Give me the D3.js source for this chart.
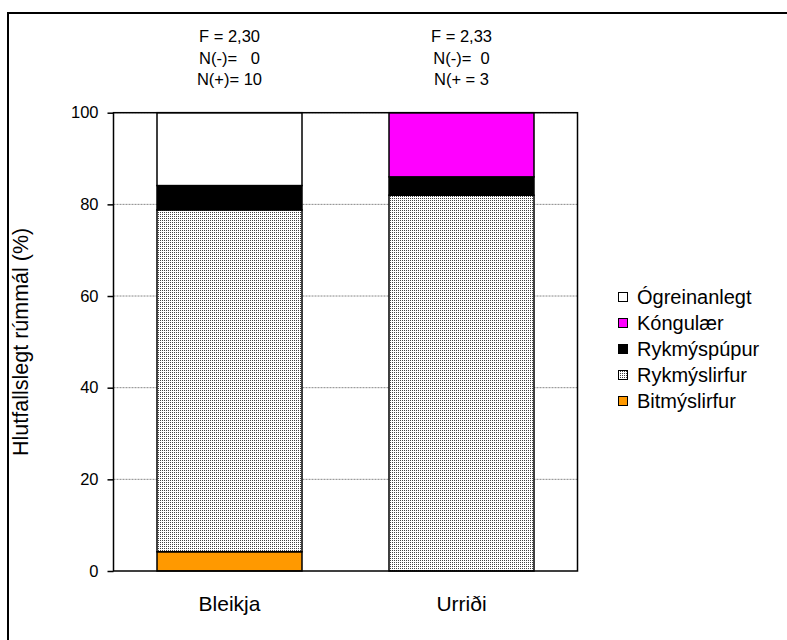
<!DOCTYPE html>
<html>
<head>
<meta charset="utf-8">
<script src="https://cdn.jsdelivr.net/npm/d3@7"></script>
<style>
  body { margin: 0; background: #fff; overflow: hidden; }
  svg { display: block; font-family: "Liberation Sans", Arial, sans-serif; }
  text { white-space: pre; }
</style>
</head>
<body>
<svg id="chart" width="787" height="640"></svg>
<script>
// Categories (fish species) and stacked diet components, in stacking order bottom→top
const categories = ["Bleikja", "Urriði"];
const seriesNames = ["Bitmýslirfur", "Rykmýslirfur", "Rykmýspúpur", "Kóngulær", "Ógreinanlegt"];
const bitmyslirfur = [4.2, 0];
const rykmyslirfur = [74.6, 82];
const rykmyspupur  = [5.3, 4];
const kongulaer    = [0, 14];
const ogreinanlegt = [15.9, 0];
const yTicks = [0, 20, 40, 60, 80, 100];
// Per-bar annotation lines above the plot
const notes = [
  ["F = 2,30", "N(-)=   0", "N(+)= 10"],
  ["F = 2,33", "N(-)=  0", "N(+ = 3"]
];
// Legend lists top→bottom
const legendOrder = ["Ógreinanlegt", "Kóngulær", "Rykmýspúpur", "Rykmýslirfur", "Bitmýslirfur"];

const values = [bitmyslirfur, rykmyslirfur, rykmyspupur, kongulaer, ogreinanlegt];
const rows = categories.map((c, i) => {
  const r = { cat: c };
  seriesNames.forEach((s, k) => r[s] = values[k][i]);
  return r;
});

const svg = d3.select("#chart");
const defs = svg.append("defs");
const pat = defs.append("pattern")
  .attr("id", "dots").attr("patternUnits", "userSpaceOnUse")
  .attr("width", 2).attr("height", 2);
pat.append("rect").attr("width", 2).attr("height", 2).attr("fill", "#fff");
pat.append("rect").attr("width", 1).attr("height", 1).attr("fill", "#444")
  .attr("shape-rendering", "crispEdges");

const fills = {
  "Bitmýslirfur": "#ff9900",
  "Rykmýslirfur": "url(#dots)",
  "Rykmýspúpur": "#000000",
  "Kóngulær": "#ff00ff",
  "Ógreinanlegt": "#ffffff"
};

// Chart area frame (left and top edges fall inside the page)
svg.append("path").attr("d", "M8,900V13H1000")
  .attr("fill", "none").attr("stroke", "#000").attr("stroke-width", 2);

const plot = { left: 113.5, right: 577.5, top: 112.7, bottom: 571 };

const x = d3.scaleBand().domain(categories)
  .range([plot.left, plot.right]).paddingInner(0.375).paddingOuter(0.1875);
const y = d3.scaleLinear().domain([0, 100]).range([plot.bottom, plot.top]);

// Grid lines
svg.append("g").selectAll("line").data(yTicks.filter(t => t > 0)).join("line")
  .attr("x1", plot.left).attr("x2", plot.right)
  .attr("y1", d => y(d)).attr("y2", d => y(d))
  .attr("stroke", "#888").attr("stroke-width", 1).attr("stroke-dasharray", "2,1");

// Stacked bars
const stack = d3.stack().keys(seriesNames)(rows);
const gBars = svg.append("g");
stack.forEach(layer => {
  gBars.selectAll(null).data(layer.filter(d => d[1] - d[0] > 0)).join("rect")
    .attr("x", d => x(d.data.cat))
    .attr("width", x.bandwidth())
    .attr("y", d => y(d[1]))
    .attr("height", d => y(d[0]) - y(d[1]))
    .attr("fill", fills[layer.key])
    .attr("stroke", "#000").attr("stroke-width", 1.5);
});

// Plot frame
svg.append("rect").attr("x", plot.left).attr("y", plot.top)
  .attr("width", plot.right - plot.left).attr("height", plot.bottom - plot.top)
  .attr("fill", "none").attr("stroke", "#000").attr("stroke-width", 1.5);

// Y axis
const yAxis = svg.append("g").attr("transform", `translate(${plot.left},0)`)
  .call(d3.axisLeft(y).tickValues(yTicks).tickSize(6).tickPadding(9));
yAxis.select(".domain").remove();
yAxis.selectAll(".tick line").attr("stroke", "#000").attr("stroke-width", 1.5);
yAxis.selectAll(".tick text").attr("font-size", 16.5).attr("fill", "#000")
  .attr("font-family", "Liberation Sans, Arial, sans-serif");

// X labels
svg.append("g").selectAll("text").data(categories).join("text")
  .attr("x", d => x(d) + x.bandwidth() / 2).attr("y", 611)
  .attr("text-anchor", "middle").attr("font-size", 21).text(d => d);

// Y title
svg.append("text")
  .attr("transform", `translate(28,${(plot.top + plot.bottom) / 2}) rotate(-90)`)
  .attr("text-anchor", "middle").attr("font-size", 21.5)
  .text("Hlutfallslegt rúmmál (%)");

// Annotations
categories.forEach((c, i) => {
  svg.append("g").selectAll("text").data(notes[i]).join("text")
    .attr("x", x(c) + x.bandwidth() / 2)
    .attr("y", (d, j) => 42 + j * 21.5)
    .attr("text-anchor", "middle").attr("font-size", 16.5).text(d => d);
});

// Legend
const leg = svg.append("g").attr("transform", "translate(618,297)");
legendOrder.forEach((name, i) => {
  const g = leg.append("g").attr("transform", `translate(0,${i * 26})`);
  g.append("rect").attr("x", 0.5).attr("y", -4.5).attr("width", 9).attr("height", 9)
    .attr("fill", fills[name]).attr("stroke", "#000").attr("stroke-width", 1);
  g.append("text").attr("x", 19).attr("y", 7).attr("font-size", 20).text(name);
});
</script>
</body>
</html>
